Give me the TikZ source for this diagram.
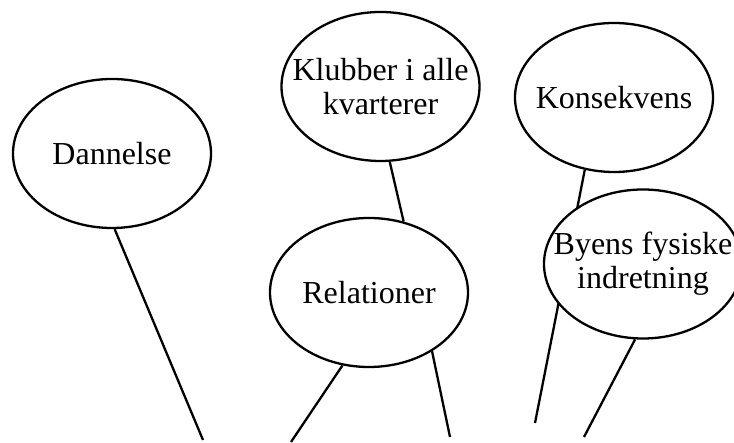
\documentclass[tikz,border=0pt]{standalone}
\usepackage{fontspec}
\setmainfont{Liberation Serif}
\usetikzlibrary{shapes.geometric,backgrounds}
\tikzset{
  ell/.style={ellipse, draw=black, line width=2.3pt, fill=white,
    minimum width=198pt, minimum height=149pt, inner sep=0pt},
  txt/.style={font=\fontsize{32}{34}\selectfont, align=center, inner sep=0pt, text=black},
  conn/.style={line width=2.3pt, draw=black},
}
\begin{document}
\begin{tikzpicture}[x=1pt,y=1pt]
\useasboundingbox (0,0) rectangle (734,443);
\clip (0,0) rectangle (734,443);
% ellipses
\node[ell, label={[txt]center:Dannelse}] (dan) at (112,289.5) {};
\node[ell, label={[txt]center:{Klubber i alle\\kvarterer}}] (klub) at (380.5,356.5) {};
\node[ell, label={[txt]center:Konsekvens}] (kons) at (614,345.5) {};
\node[ell, label={[txt]center:Relationer}] (rel) at (369,150.5) {};
\node[ell, label={[txt]center:{Byens fysiske\\indretning}}] (byens) at (643,179) {};
% free ends
\coordinate (d1) at (203,3);
\coordinate (r1) at (291,1);
\coordinate (r2) at (450,6);
\coordinate (k1) at (535,20);
\coordinate (b1) at (584,6);
\begin{scope}[on background layer]
  \fill[white] (0,0) rectangle (734,443);
  \draw[conn] (dan.-88.5) -- (d1);
  \draw[conn] (klub.-83.4) -- (rel.64.25);
  \draw[conn] (rel.-110.4) -- (r1);
  \draw[conn] (rel.-43.35) -- (r2);
  \draw[conn] (kons.-112.4) -- (k1);
  \draw[conn] (byens.-96.2) -- (b1);
\end{scope}
\end{tikzpicture}
\end{document}
